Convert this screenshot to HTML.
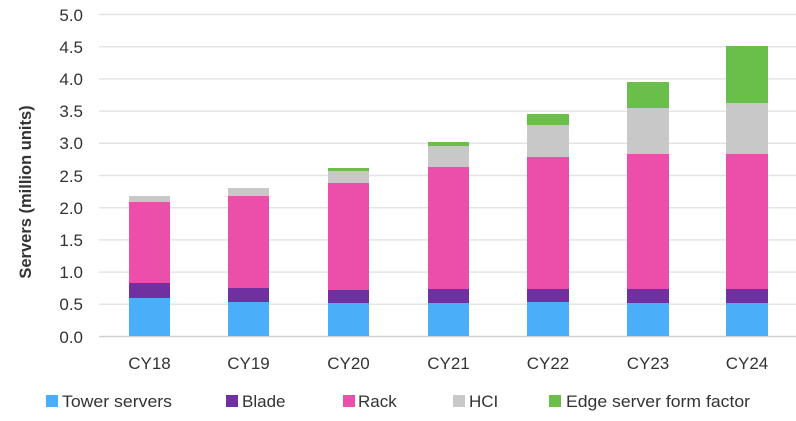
<!DOCTYPE html>
<html><head><style>
body{margin:0;background:#fff;}
svg text{font-family:"Liberation Sans",sans-serif;fill:#333;}
</style></head><body>
<svg width="796" height="416" xmlns="http://www.w3.org/2000/svg">
<g stroke="#e4e4e4" stroke-width="1.5">
<line x1="99" x2="796" y1="14.5" y2="14.5"/><line x1="99" x2="796" y1="46.7" y2="46.7"/>
<line x1="99" x2="796" y1="78.9" y2="78.9"/><line x1="99" x2="796" y1="111.1" y2="111.1"/>
<line x1="99" x2="796" y1="143.3" y2="143.3"/><line x1="99" x2="796" y1="175.5" y2="175.5"/>
<line x1="99" x2="796" y1="207.7" y2="207.7"/><line x1="99" x2="796" y1="239.9" y2="239.9"/>
<line x1="99" x2="796" y1="272.1" y2="272.1"/><line x1="99" x2="796" y1="304.3" y2="304.3"/>
</g>
<line x1="99" x2="796" y1="336.5" y2="336.5" stroke="#d0d0d0" stroke-width="1.5"/>
<g font-size="17" text-anchor="end">
<text x="83" y="21">5.0</text><text x="83" y="53">4.5</text><text x="83" y="85">4.0</text>
<text x="83" y="117">3.5</text><text x="83" y="149">3.0</text><text x="83" y="182">2.5</text>
<text x="83" y="214">2.0</text><text x="83" y="246">1.5</text><text x="83" y="278">1.0</text>
<text x="83" y="310">0.5</text><text x="83" y="343">0.0</text>
</g>
<text transform="translate(31,192) rotate(-90)" text-anchor="middle" font-size="16.5" font-weight="bold">Servers (million units)</text>
<g>
<rect x="129" y="298" width="41" height="38" fill="#4aaef8"/><rect x="129" y="283" width="41" height="15" fill="#7030a0"/><rect x="129" y="202" width="41" height="81" fill="#eb4faa"/><rect x="129" y="196" width="41" height="6" fill="#c8c8c8"/>
<rect x="228" y="302" width="41" height="34" fill="#4aaef8"/><rect x="228" y="288" width="41" height="14" fill="#7030a0"/><rect x="228" y="196" width="41" height="92" fill="#eb4faa"/><rect x="228" y="188" width="41" height="8" fill="#c8c8c8"/>
<rect x="328" y="303" width="41" height="33" fill="#4aaef8"/><rect x="328" y="290" width="41" height="13" fill="#7030a0"/><rect x="328" y="183" width="41" height="107" fill="#eb4faa"/><rect x="328" y="171" width="41" height="12" fill="#c8c8c8"/><rect x="328" y="168" width="41" height="3" fill="#6abf4b"/>
<rect x="428" y="303" width="41" height="33" fill="#4aaef8"/><rect x="428" y="289" width="41" height="14" fill="#7030a0"/><rect x="428" y="167" width="41" height="122" fill="#eb4faa"/><rect x="428" y="146" width="41" height="21" fill="#c8c8c8"/><rect x="428" y="142" width="41" height="4" fill="#6abf4b"/>
<rect x="527" y="302" width="42" height="34" fill="#4aaef8"/><rect x="527" y="289" width="42" height="13" fill="#7030a0"/><rect x="527" y="157" width="42" height="132" fill="#eb4faa"/><rect x="527" y="125" width="42" height="32" fill="#c8c8c8"/><rect x="527" y="114" width="42" height="11" fill="#6abf4b"/>
<rect x="627" y="303" width="42" height="33" fill="#4aaef8"/><rect x="627" y="289" width="42" height="14" fill="#7030a0"/><rect x="627" y="154" width="42" height="135" fill="#eb4faa"/><rect x="627" y="108" width="42" height="46" fill="#c8c8c8"/><rect x="627" y="82" width="42" height="26" fill="#6abf4b"/>
<rect x="726" y="303" width="42" height="33" fill="#4aaef8"/><rect x="726" y="289" width="42" height="14" fill="#7030a0"/><rect x="726" y="154" width="42" height="135" fill="#eb4faa"/><rect x="726" y="103" width="42" height="51" fill="#c8c8c8"/><rect x="726" y="46" width="42" height="57" fill="#6abf4b"/>
</g>
<g font-size="17" text-anchor="middle">
<text x="149.5" y="369">CY18</text><text x="248.5" y="369">CY19</text><text x="348.5" y="369">CY20</text>
<text x="448.5" y="369">CY21</text><text x="548" y="369">CY22</text><text x="648" y="369">CY23</text><text x="747" y="369">CY24</text>
</g>
<g font-size="17">
<rect x="46" y="395" width="12" height="12" fill="#4aaef8"/><text x="62" y="407" fill="#555" textLength="110" lengthAdjust="spacingAndGlyphs">Tower servers</text>
<rect x="226" y="395" width="12" height="12" fill="#7030a0"/><text x="242" y="407" fill="#555">Blade</text>
<rect x="343" y="395" width="12" height="12" fill="#eb4faa"/><text x="358" y="407" fill="#555">Rack</text>
<rect x="453" y="395" width="12" height="12" fill="#c8c8c8"/><text x="469" y="407" fill="#555">HCI</text>
<rect x="549" y="395" width="12" height="12" fill="#6abf4b"/><text x="566" y="407" fill="#555" textLength="184" lengthAdjust="spacingAndGlyphs">Edge server form factor</text>
</g>
</svg>
</body></html>
